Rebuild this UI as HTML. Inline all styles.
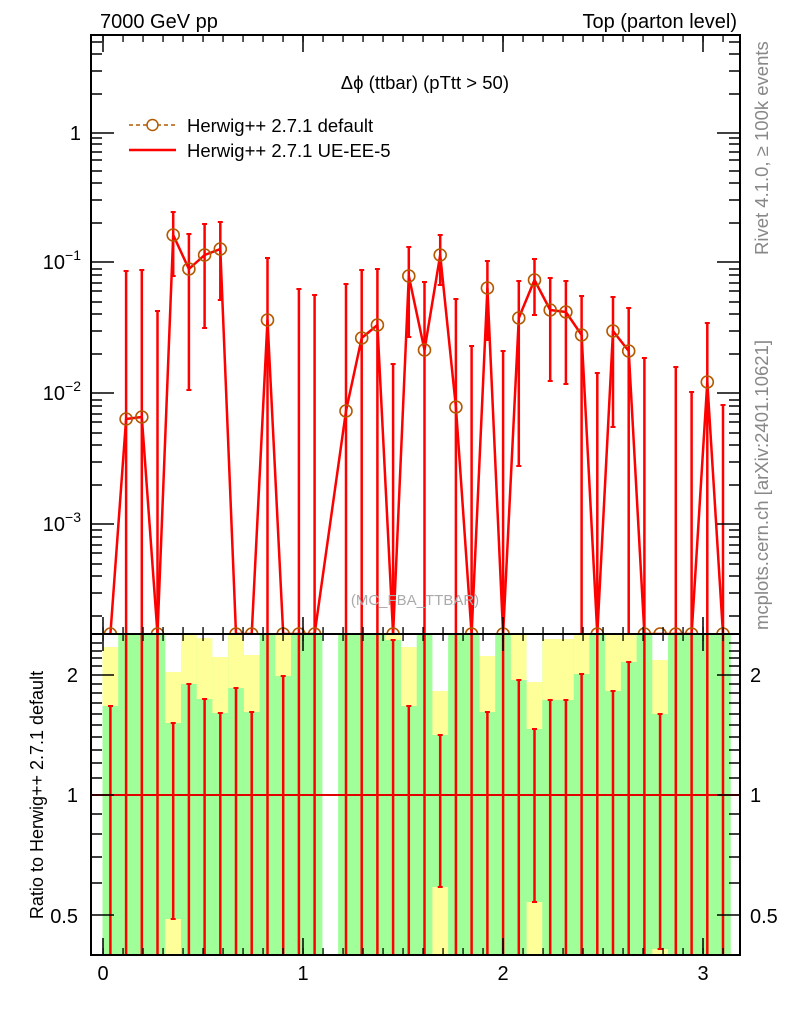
<!DOCTYPE html>
<html><head><meta charset="utf-8"><style>
html,body{margin:0;padding:0;background:#fff;}
svg{display:block;font-family:"Liberation Sans",sans-serif;}
</style></head><body>
<svg width="786" height="1024" viewBox="0 0 786 1024" xmlns="http://www.w3.org/2000/svg">
<defs><clipPath id="cm"><rect x="91" y="35" width="649" height="599"/></clipPath>
<clipPath id="cr"><rect x="91" y="634" width="649" height="321"/></clipPath></defs>

<!-- ratio bands -->
<g clip-path="url(#cr)">
<rect x="102.5" y="634" width="219.9" height="321" fill="#a0ff99"/>
<rect x="338.1" y="634" width="392.7" height="321" fill="#a0ff99"/>
<g fill="#ffff99">
<rect x="102.5" y="647" width="15.7" height="59"/>
<rect x="165.3" y="672" width="15.7" height="51"/><rect x="165.3" y="919" width="15.7" height="36"/>
<rect x="181" y="634" width="15.7" height="50"/>
<rect x="196.7" y="638" width="15.7" height="61"/>
<rect x="212.4" y="657" width="15.7" height="56"/>
<rect x="228.2" y="634" width="15.7" height="54"/>
<rect x="243.9" y="655" width="15.7" height="57"/>
<rect x="275.3" y="634" width="15.7" height="42"/>
<rect x="385.2" y="634" width="15.7" height="6"/>
<rect x="401" y="647" width="15.7" height="59"/>
<rect x="432.4" y="691" width="15.7" height="44"/><rect x="432.4" y="887" width="15.7" height="68"/>
<rect x="479.5" y="656" width="15.7" height="56"/>
<rect x="510.9" y="634" width="15.7" height="46"/>
<rect x="526.6" y="682" width="15.7" height="47"/><rect x="526.6" y="902" width="15.7" height="53"/>
<rect x="542.3" y="639" width="31.4" height="61"/>
<rect x="573.7" y="634" width="15.7" height="40"/>
<rect x="605.2" y="634" width="15.7" height="57"/>
<rect x="620.9" y="634" width="15.7" height="28"/>
<rect x="652.3" y="660" width="15.7" height="54"/><rect x="652.3" y="949" width="15.7" height="6"/>
</g>
<g fill="#fff">
<rect x="102.5" y="634" width="15.7" height="13"/>
<rect x="165.3" y="634" width="15.7" height="38"/>
<rect x="196.7" y="634" width="15.7" height="4"/>
<rect x="212.4" y="634" width="15.7" height="23"/>
<rect x="243.9" y="634" width="15.7" height="21"/>
<rect x="401" y="634" width="15.7" height="13"/>
<rect x="432.4" y="634" width="15.7" height="57"/>
<rect x="479.5" y="634" width="15.7" height="22"/>
<rect x="526.6" y="634" width="15.7" height="48"/>
<rect x="542.3" y="634" width="31.4" height="5"/>
<rect x="652.3" y="634" width="15.7" height="26"/>
</g>
<line x1="91" y1="795" x2="740" y2="795" stroke="#e00000" stroke-width="2"/>
<g stroke="#ff0000" stroke-width="2.5" fill="none">
<path d="M110.4 706V955 M126.1 634V955 M141.8 634V955 M157.5 634V955 M173.2 723V919 M188.9 684V955 M204.6 699V955 M220.3 713V955 M236 688V955 M251.7 712V955 M267.5 634V955 M283.2 676V955 M298.9 634V955 M314.6 634V955 M346 634V955 M361.7 634V955 M377.4 634V955 M393.1 640V955 M408.8 706V955 M424.5 634V955 M440.2 735V887 M455.9 634V955 M471.6 634V955 M487.4 712V955 M503.1 634V955 M518.8 680V955 M534.5 729V902 M550.2 700V955 M565.9 700V955 M581.6 674V955 M597.3 634V955 M613 691V955 M628.7 662V955 M644.4 634V955 M660.1 714V949 M675.8 634V955 M691.6 634V955 M707.3 634V955 M723 634V955"/>
<path stroke-width="2" d="M108 706h5 M170.7 723h5 M170.7 919h5 M186.4 684h5 M202.1 699h5 M217.8 713h5 M233.5 688h5 M249.2 712h5 M280.7 676h5 M390.6 640h5 M406.3 706h5 M437.7 735h5 M437.7 887h5 M484.9 712h5 M516.3 680h5 M532 729h5 M532 902h5 M547.7 700h5 M563.4 700h5 M579.1 674h5 M610.5 691h5 M626.2 662h5 M657.6 714h5 M657.6 949h5"/>
</g>
</g>

<!-- main panel -->
<g clip-path="url(#cm)">
<g stroke="#ff0000" stroke-width="2.5" fill="none">
<path d="M126.1 271V634 M141.8 270V634 M157.5 311V634 M173.2 212V276 M188.9 234V390 M204.6 224V328 M220.3 222V300 M267.5 258V634 M298.9 289V634 M314.6 295V634 M346 284V634 M361.7 270V634 M377.4 269V634 M393.1 364V634 M408.8 247V337 M424.5 282V634 M440.2 235V285 M455.9 299V634 M471.6 346V634 M487.4 261V340 M503.1 351V634 M518.8 281V466 M534.5 259V315 M550.2 278V381 M565.9 281V384 M581.6 296V634 M597.3 373V634 M613 297V427 M628.7 308V634 M644.4 358V634 M675.8 367V634 M691.6 392V634 M707.3 323V634 M723 405V634"/>
<path stroke-width="2" d="M123.6 271h5 M139.3 270h5 M155 311h5 M170.7 212h5 M170.7 276h5 M186.4 234h5 M186.4 390h5 M202.1 224h5 M202.1 328h5 M217.8 222h5 M217.8 300h5 M265 258h5 M296.4 289h5 M312.1 295h5 M343.5 284h5 M359.2 270h5 M374.9 269h5 M390.6 364h5 M406.3 247h5 M406.3 337h5 M422 282h5 M437.7 235h5 M437.7 285h5 M453.4 299h5 M469.1 346h5 M484.9 261h5 M484.9 340h5 M500.6 351h5 M516.3 281h5 M516.3 466h5 M532 259h5 M532 315h5 M547.7 278h5 M547.7 381h5 M563.4 281h5 M563.4 384h5 M579.1 296h5 M594.8 373h5 M610.5 297h5 M610.5 427h5 M626.2 308h5 M641.9 358h5 M673.3 367h5 M689.1 392h5 M704.8 323h5 M720.5 405h5"/>
<polyline stroke-width="2.5" stroke-linejoin="round" points="110.4,634 126.1,419 141.8,417 157.5,634 173.2,235 188.9,269 204.6,255 220.3,249 236,634 251.7,634 267.5,320 283.2,634 298.9,634 314.6,634 346,411 361.7,338 377.4,325 393.1,634 408.8,276 424.5,350 440.2,255 455.9,407 471.6,634 487.4,288 503.1,634 518.8,318 534.5,280 550.2,310 565.9,312 581.6,335 597.3,634 613,331 628.7,351 644.4,634 660.1,634 675.8,634 691.6,634 707.3,382 723,634"/>
</g>
<g stroke="#b35900" stroke-width="1.6" fill="none">
<circle cx="110.4" cy="634" r="6"/><circle cx="126.1" cy="419" r="6"/><circle cx="141.8" cy="417" r="6"/><circle cx="157.5" cy="634" r="6"/><circle cx="173.2" cy="235" r="6"/><circle cx="188.9" cy="269" r="6"/><circle cx="204.6" cy="255" r="6"/><circle cx="220.3" cy="249" r="6"/><circle cx="236" cy="634" r="6"/><circle cx="251.7" cy="634" r="6"/><circle cx="267.5" cy="320" r="6"/><circle cx="283.2" cy="634" r="6"/><circle cx="298.9" cy="634" r="6"/><circle cx="314.6" cy="634" r="6"/><circle cx="346" cy="411" r="6"/><circle cx="361.7" cy="338" r="6"/><circle cx="377.4" cy="325" r="6"/><circle cx="393.1" cy="634" r="6"/><circle cx="408.8" cy="276" r="6"/><circle cx="424.5" cy="350" r="6"/><circle cx="440.2" cy="255" r="6"/><circle cx="455.9" cy="407" r="6"/><circle cx="471.6" cy="634" r="6"/><circle cx="487.4" cy="288" r="6"/><circle cx="503.1" cy="634" r="6"/><circle cx="518.8" cy="318" r="6"/><circle cx="534.5" cy="280" r="6"/><circle cx="550.2" cy="310" r="6"/><circle cx="565.9" cy="312" r="6"/><circle cx="581.6" cy="335" r="6"/><circle cx="597.3" cy="634" r="6"/><circle cx="613" cy="331" r="6"/><circle cx="628.7" cy="351" r="6"/><circle cx="644.4" cy="634" r="6"/><circle cx="660.1" cy="634" r="6"/><circle cx="675.8" cy="634" r="6"/><circle cx="691.6" cy="634" r="6"/><circle cx="707.3" cy="382" r="6"/><circle cx="723" cy="634" r="6"/>
</g>
</g>

<text x="415" y="605" font-size="15" fill="#aaa" text-anchor="middle">(MC_FBA_TTBAR)</text>

<!-- frames -->
<g stroke="#000" fill="none" stroke-width="2">
<rect x="91" y="35" width="649" height="920"/>
<line x1="91" y1="634" x2="740" y2="634"/>
</g>
<!-- x ticks -->
<g stroke="#000" stroke-width="7" stroke-dasharray="1.3 18.7">
<line x1="102.4" y1="38.5" x2="740" y2="38.5"/>
<line x1="102.4" y1="630.5" x2="740" y2="630.5"/>
<line x1="102.4" y1="637.5" x2="740" y2="637.5"/>
<line x1="102.4" y1="951.5" x2="740" y2="951.5"/>
</g>
<g stroke="#000" stroke-width="1.5">
<path d="M103 35v17M303 35v17M503 35v17M703 35v17 M103 634v-17M303 634v-17M503 634v-17M703 634v-17 M103 634v17M303 634v17M503 634v17M703 634v17 M103 955v-17M303 955v-17M503 955v-17M703 955v-17"/>
<path d="M91 133h23M91 262h23M91 393h23M91 524h23 M740 133h-23M740 262h-23M740 393h-23M740 524h-23"/>
<path d="M91 94h11M91 71h11M91 54h11M91 42h11 M91 223h11M91 200h11M91 183h11M91 171h11M91 160h11M91 152h11M91 144h11M91 138h11 M91 354h11M91 331h11M91 314h11M91 302h11M91 291h11M91 283h11M91 275h11M91 269h11 M91 485h11M91 462h11M91 445h11M91 433h11M91 422h11M91 414h11M91 406h11M91 400h11 M91 616h11M91 593h11M91 576h11M91 564h11M91 553h11M91 545h11M91 537h11M91 530h11"/>
<path d="M740 94h-11M740 71h-11M740 54h-11M740 42h-11 M740 223h-11M740 200h-11M740 183h-11M740 171h-11M740 160h-11M740 152h-11M740 144h-11M740 138h-11 M740 354h-11M740 331h-11M740 314h-11M740 302h-11M740 291h-11M740 283h-11M740 275h-11M740 269h-11 M740 485h-11M740 462h-11M740 445h-11M740 433h-11M740 422h-11M740 414h-11M740 406h-11M740 400h-11 M740 616h-11M740 593h-11M740 576h-11M740 564h-11M740 553h-11M740 545h-11M740 537h-11M740 530h-11"/>
<path d="M91 675h23M91 795h23M91 915h23 M740 675h-23M740 795h-23M740 915h-23"/>
<path d="M91 643h11M91 651h11M91 658h11M91 666h11M91 684h11M91 693h11M91 703h11M91 714h11M91 725h11M91 737h11M91 750h11M91 763h11M91 778h11M91 814h11M91 834h11M91 857h11M91 883h11"/>
<path d="M740 643h-11M740 651h-11M740 658h-11M740 666h-11M740 684h-11M740 693h-11M740 703h-11M740 714h-11M740 725h-11M740 737h-11M740 750h-11M740 763h-11M740 778h-11M740 814h-11M740 834h-11M740 857h-11M740 883h-11"/>
</g>

<!-- labels -->
<g font-size="20" fill="#000">
<text x="100" y="28">7000 GeV pp</text>
<text x="737" y="28" text-anchor="end">Top (parton level)</text>
<text x="81" y="140" text-anchor="end">1</text>
<text x="81" y="269" text-anchor="end">10<tspan dy="-9" font-size="14">−1</tspan></text>
<text x="81" y="400" text-anchor="end">10<tspan dy="-9" font-size="14">−2</tspan></text>
<text x="81" y="531" text-anchor="end">10<tspan dy="-9" font-size="14">−3</tspan></text>
<text x="78" y="682" text-anchor="end">2</text>
<text x="78" y="802" text-anchor="end">1</text>
<text x="78" y="923" text-anchor="end">0.5</text>
<text x="750" y="682">2</text>
<text x="750" y="802">1</text>
<text x="750" y="923">0.5</text>
<text x="103" y="980" text-anchor="middle">0</text>
<text x="303" y="980" text-anchor="middle">1</text>
<text x="503" y="980" text-anchor="middle">2</text>
<text x="703" y="980" text-anchor="middle">3</text>
</g>
<text x="509" y="89" font-size="18.5" text-anchor="end">Δϕ (ttbar) (pTtt &gt; 50)</text>
<g>
<line x1="129" y1="125" x2="176" y2="125" stroke="#b35900" stroke-width="1.5" stroke-dasharray="4 3"/>
<circle cx="152.5" cy="125" r="5.5" fill="#fff" stroke="#b35900" stroke-width="1.5"/>
<line x1="129" y1="150" x2="176" y2="150" stroke="#ff0000" stroke-width="2.5"/>
<text x="187" y="132" font-size="18.5">Herwig++ 2.7.1 default</text>
<text x="187" y="157" font-size="18.5">Herwig++ 2.7.1 UE-EE-5</text>
</g>
<text transform="translate(43,795) rotate(-90)" font-size="18" text-anchor="middle">Ratio to Herwig++ 2.7.1 default</text>
<text transform="translate(768,255) rotate(-90)" font-size="18.5" fill="#888">Rivet 4.1.0, ≥ 100k events</text>
<text transform="translate(768,630) rotate(-90)" font-size="18.5" fill="#888">mcplots.cern.ch [arXiv:2401.10621]</text>
</svg>
</body></html>
